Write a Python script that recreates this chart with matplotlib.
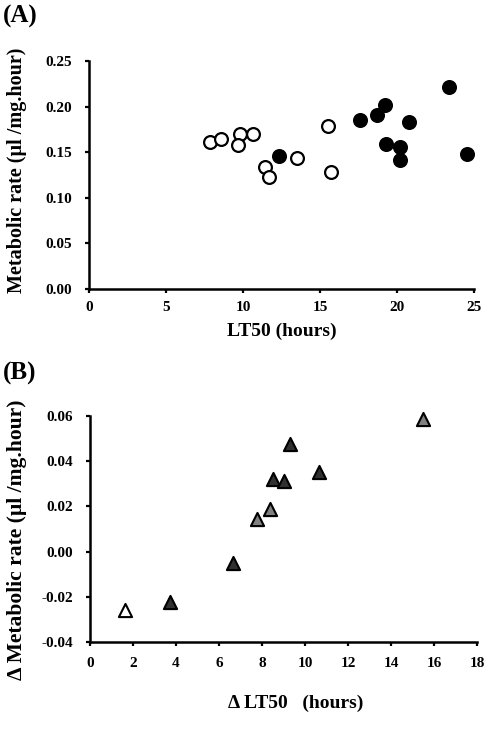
import matplotlib
matplotlib.use("Agg")
import matplotlib.pyplot as plt

# Panel A data
lt50_open = [7.84, 8.55, 9.83, 9.70, 10.67, 11.41, 11.67, 13.51, 15.52, 15.69]
rate_open = [0.161, 0.165, 0.170, 0.158, 0.170, 0.134, 0.123, 0.144, 0.179, 0.128]
lt50_filled = [12.32, 17.62, 18.72, 19.20, 19.26, 20.76, 20.22, 20.17, 23.35, 24.57]
rate_filled = [0.146, 0.185, 0.191, 0.202, 0.159, 0.183, 0.156, 0.141, 0.221, 0.148]

# Panel B data
dlt50_open = [1.63]
drate_open = [-0.0257]
dlt50_dark = [3.72, 6.66, 8.50, 9.03, 9.31, 10.65]
drate_dark = [-0.0221, -0.0049, 0.0321, 0.0313, 0.0474, 0.0353]
dlt50_gray = [7.76, 8.36, 15.49]
drate_gray = [0.0143, 0.0188, 0.0585]

xticks_a = [0, 5, 10, 15, 20, 25]
yticks_a = [0.00, 0.05, 0.10, 0.15, 0.20, 0.25]
xticks_b = [0, 2, 4, 6, 8, 10, 12, 14, 16, 18]
yticks_b = [-0.04, -0.02, 0.00, 0.02, 0.04, 0.06]

plt.rcParams['font.family'] = ['Liberation Serif', 'DejaVu Serif']
plt.rcParams['font.weight'] = 'bold'

W, H = 495, 733
fig = plt.figure(figsize=(W / 100, H / 100), dpi=100)

def rect(l, t, r, b):
    return [l / W, 1 - b / H, (r - l) / W, (b - t) / H]

axA = fig.add_axes(rect(89, 61, 474, 289))
axB = fig.add_axes(rect(90, 416, 477, 642))

def style(ax):
    for s in ['top', 'right']:
        ax.spines[s].set_visible(False)
    for s in ['left', 'bottom']:
        ax.spines[s].set_linewidth(1.8)
        ax.spines[s].set_color('black')
    ax.tick_params(direction='out', length=3, width=1.6, colors='black')

TICK_FS = 11

# Panel A
axA.scatter(lt50_open, rate_open, s=85, facecolor='white', edgecolor='black',
            linewidth=1.6, zorder=3, clip_on=False)
axA.scatter(lt50_filled, rate_filled, s=85, facecolor='black', edgecolor='black',
            linewidth=1.6, zorder=3, clip_on=False)
axA.set_xlim(0, 25)
axA.set_ylim(0, 0.25)
axA.set_xticks(xticks_a)
axA.set_xticklabels([str(v) for v in xticks_a], fontsize=TICK_FS, fontweight='bold')
axA.set_yticks(yticks_a)
axA.set_yticklabels([f"{v:.2f}" for v in yticks_a], fontsize=TICK_FS, fontweight='bold')
style(axA)
axA.tick_params(axis='y', pad=9)
axA.tick_params(axis='x', pad=6)
axA.set_xlabel('LT50 (hours)', fontsize=14, fontweight='bold')
axA.xaxis.set_label_coords(0.5, -0.149)
axA.set_ylabel('Metabolic rate (µl /mg.hour)', fontsize=14.5, fontweight='bold')
axA.yaxis.set_label_coords(-0.161, 0.522)

# Panel B
axB.scatter(dlt50_open, drate_open, s=90, marker='^', facecolor='white',
            edgecolor='black', linewidth=1.5, zorder=3, clip_on=False)
axB.scatter(dlt50_dark, drate_dark, s=90, marker='^', facecolor='#303030',
            edgecolor='black', linewidth=1.5, zorder=3, clip_on=False)
axB.scatter(dlt50_gray, drate_gray, s=90, marker='^', facecolor='#808080',
            edgecolor='black', linewidth=1.5, zorder=3, clip_on=False)
axB.set_xlim(0, 18)
axB.set_ylim(-0.04, 0.06)
axB.set_xticks(xticks_b)
axB.set_xticklabels([str(v) for v in xticks_b], fontsize=TICK_FS, fontweight='bold')
axB.set_yticks(yticks_b)
axB.set_yticklabels([f"{v:.2f}" for v in yticks_b], fontsize=TICK_FS, fontweight='bold')
style(axB)
axB.tick_params(axis='y', pad=9)
axB.tick_params(axis='x', pad=8)
axB.set_xlabel('Δ LT50   (hours)', fontsize=14, fontweight='bold')
axB.xaxis.set_label_coords(0.532, -0.2345)
axB.set_ylabel('Δ Metabolic rate (µl /mg.hour)', fontsize=15.5, fontweight='bold')
axB.yaxis.set_label_coords(-0.163, 0.451)

fig.text(3 / W, 1 - 16 / H, '(A)', fontsize=18, fontweight='bold', va='center', ha='left')
fig.text(3 / W, 1 - 373 / H, '(B)', fontsize=18, fontweight='bold', va='center', ha='left')

fig.savefig('out.png', dpi=100)
